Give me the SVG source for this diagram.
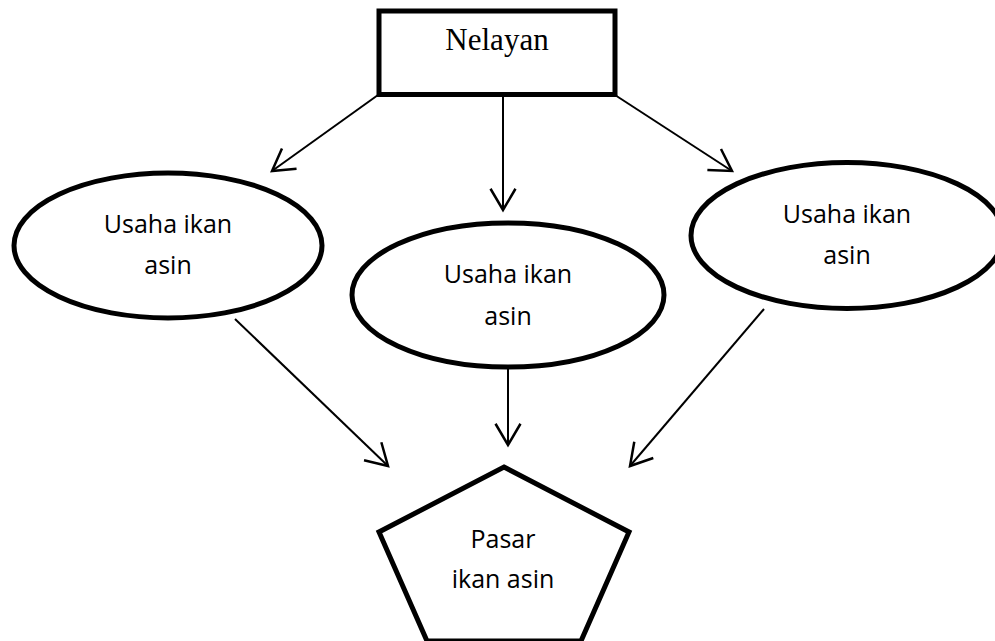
<svg xmlns="http://www.w3.org/2000/svg" width="995" height="641" viewBox="0 0 995 641">
<defs>
<style>
.node{fill:#fff;stroke:#000;stroke-width:5}
.edge{fill:none;stroke:#000;stroke-width:2}
.lbl{font-family:"Open Sans","Liberation Sans",sans-serif;font-size:25px;fill:#000;text-anchor:middle}
.ser{font-family:"Liberation Serif",serif;font-size:31px;fill:#000;text-anchor:middle}
</style>
<marker id="arr" markerUnits="userSpaceOnUse" markerWidth="30" markerHeight="30" viewBox="-20 -12 22 24" refX="0" refY="0" orient="auto">
<path d="M-17,-10 L0,0 L-17,10" fill="none" stroke="#000" stroke-width="2"/>
</marker>
</defs>
<g id="connectors">
<line class="edge" x1="378" y1="95" x2="272" y2="171" marker-end="url(#arr)"/>
<line class="edge" x1="503" y1="96" x2="503" y2="210" marker-end="url(#arr)"/>
<line class="edge" x1="615" y1="95" x2="732" y2="171" marker-end="url(#arr)"/>
<line class="edge" x1="235" y1="319" x2="388" y2="466" marker-end="url(#arr)"/>
<line class="edge" x1="508" y1="369" x2="508" y2="445" marker-end="url(#arr)"/>
<line class="edge" x1="764" y1="309" x2="630" y2="466" marker-end="url(#arr)"/>
</g>
<g id="nelayan">
<rect class="node" x="379" y="11" width="236" height="83.5"/>
<text class="ser" x="497" y="50">Nelayan</text>
</g>
<g id="usaha1">
<ellipse class="node" cx="168" cy="245.5" rx="154" ry="72.5"/>
<text class="lbl" x="168" y="233">Usaha ikan</text>
<text class="lbl" x="168" y="274">asin</text>
</g>
<g id="usaha2">
<ellipse class="node" cx="508" cy="295" rx="156" ry="72"/>
<text class="lbl" x="508" y="283">Usaha ikan</text>
<text class="lbl" x="508" y="325">asin</text>
</g>
<g id="usaha3">
<ellipse class="node" cx="847" cy="235.5" rx="156" ry="73"/>
<text class="lbl" x="847" y="223">Usaha ikan</text>
<text class="lbl" x="847" y="264">asin</text>
</g>
<g id="pasar">
<polygon class="node" points="504,467 629,532 581,641 427,641 379,532"/>
<text class="lbl" x="503" y="548">Pasar</text>
<text class="lbl" x="503" y="588">ikan asin</text>
</g>
</svg>
